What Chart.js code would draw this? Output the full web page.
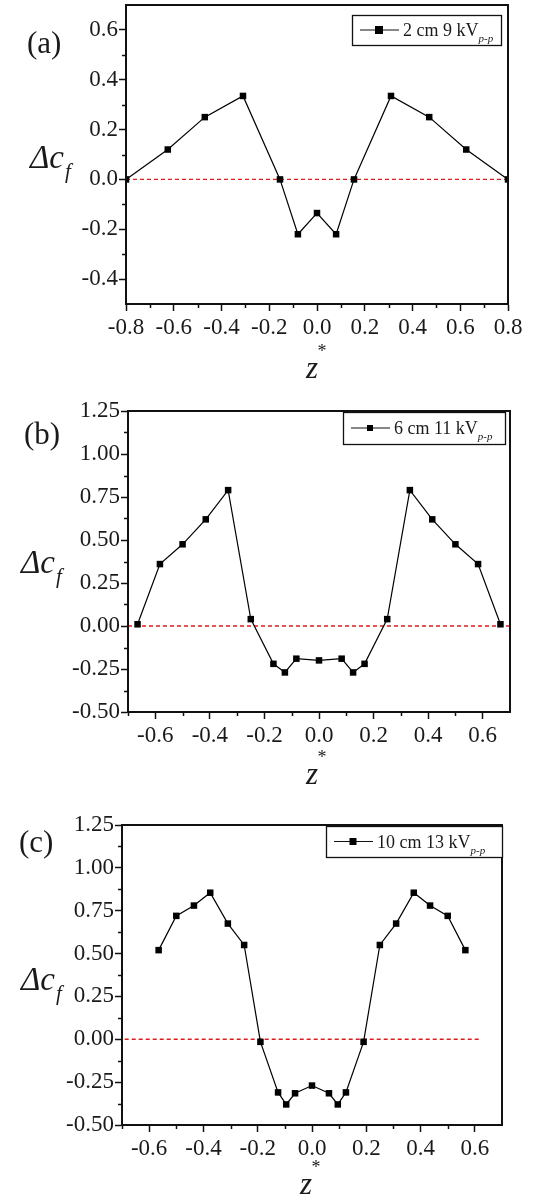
<!DOCTYPE html>
<html>
<head>
<meta charset="utf-8">
<script src="https://cdn.jsdelivr.net/npm/chart.js@4.4.1/dist/chart.umd.min.js"></script>
<style>
  body { margin: 0; background: #fff; width: 554px; height: 1201px; overflow: hidden; }
  .panel { position: absolute; left: 0; width: 554px; }
</style>
</head>
<body>
<div class="panel" style="top:0px;height:395px"><canvas id="chartA"></canvas></div>
<div class="panel" style="top:395px;height:405px"><canvas id="chartB"></canvas></div>
<div class="panel" style="top:800px;height:401px"><canvas id="chartC"></canvas></div>
<script>
// (a) 2 cm 9 kV p-p
const aX = [-0.8, -0.625, -0.47, -0.31, -0.155, -0.08, 0, 0.08, 0.155, 0.31, 0.47, 0.625, 0.8];
const aY = [0, 0.12, 0.25, 0.335, 0, -0.22, -0.135, -0.22, 0, 0.335, 0.25, 0.12, 0];
const aZeroX = [-0.8, 0.8];
const aXTicks = [-0.8, -0.6, -0.4, -0.2, 0, 0.2, 0.4, 0.6, 0.8];
const aYTicks = [-0.4, -0.2, 0, 0.2, 0.4, 0.6];
const aXMinor = [-0.7, -0.5, -0.3, -0.1, 0.1, 0.3, 0.5, 0.7];
const aYMinor = [-0.3, -0.1, 0.1, 0.3, 0.5];

// (b) 6 cm 11 kV p-p
const bX = [-0.665, -0.583, -0.5, -0.415, -0.333, -0.25, -0.167, -0.125, -0.083, 0, 0.083, 0.125, 0.167, 0.25, 0.333, 0.415, 0.5, 0.583, 0.665];
const bY = [0.01, 0.36, 0.475, 0.62, 0.79, 0.04, -0.22, -0.27, -0.19, -0.2, -0.19, -0.27, -0.22, 0.04, 0.79, 0.62, 0.475, 0.36, 0.01];
const bZeroX = [-0.7, 0.7];

// (c) 10 cm 13 kV p-p
const cX = [-0.565, -0.5, -0.435, -0.375, -0.31, -0.25, -0.19, -0.125, -0.095, -0.0625, 0, 0.0625, 0.095, 0.125, 0.19, 0.25, 0.31, 0.375, 0.435, 0.5, 0.565];
const cY = [0.52, 0.72, 0.78, 0.855, 0.675, 0.55, -0.015, -0.31, -0.38, -0.315, -0.27, -0.315, -0.38, -0.31, -0.015, 0.55, 0.675, 0.855, 0.78, 0.72, 0.52];
const cZeroX = [-0.69, 0.62];

// shared tick lists for (b) and (c)
const bcXTicks = [-0.6, -0.4, -0.2, 0, 0.2, 0.4, 0.6];
const bcYTicks = [-0.5, -0.25, 0, 0.25, 0.5, 0.75, 1.0, 1.25];
const bcXMinor = [-0.7, -0.5, -0.3, -0.1, 0.1, 0.3, 0.5];
const bcYMinor = [-0.375, -0.125, 0.125, 0.375, 0.625, 0.875, 1.125];

const SERIF = '"Liberation Serif", "Times New Roman", serif';

// frame, minor ticks, panel letter, axis titles and legend
const decor = {
  id: 'decor',
  afterDraw(chart, args, o) {
    const ctx = chart.ctx;
    const { left, right, top, bottom } = chart.chartArea;
    const xs = chart.scales.x, ys = chart.scales.y;
    ctx.save();
    ctx.strokeStyle = '#111';
    ctx.lineWidth = 2;
    ctx.strokeRect(left, top, right - left, bottom - top);

    ctx.lineWidth = 1.5;
    ctx.beginPath();
    o.xMinor.forEach(v => {
      const px = Math.round(xs.getPixelForValue(v)) + 0.5;
      ctx.moveTo(px, bottom); ctx.lineTo(px, bottom + 4);
    });
    o.yMinor.forEach(v => {
      const py = Math.round(ys.getPixelForValue(v)) + 0.5;
      ctx.moveTo(left, py); ctx.lineTo(left - 4, py);
    });
    ctx.stroke();

    ctx.fillStyle = '#1a1a1a';
    ctx.textBaseline = 'alphabetic';
    ctx.textAlign = 'left';
    // panel letter
    ctx.font = '31px ' + SERIF;
    ctx.fillText(o.panel, o.panelPos[0], o.panelPos[1]);
    // Δc_f
    ctx.font = 'italic 33px ' + SERIF;
    ctx.fillText('\u0394c', o.yTitlePos[0], o.yTitlePos[1]);
    const w = ctx.measureText('\u0394c').width;
    ctx.font = 'italic 21px ' + SERIF;
    ctx.fillText('f', o.yTitlePos[0] + w + 1, o.yTitlePos[1] + 10);
    // z*
    ctx.font = 'italic 31px ' + SERIF;
    ctx.textAlign = 'center';
    ctx.fillText('z', o.xTitlePos[0], o.xTitlePos[1]);
    ctx.font = '18px ' + SERIF;
    ctx.fillText('*', o.xTitlePos[0] + 10, o.xTitlePos[1] - 21);

    // legend
    const [bx, by, bw, bh] = o.legendBox;
    ctx.fillStyle = '#fff';
    ctx.fillRect(bx, by, bw, bh);
    ctx.strokeStyle = '#111';
    ctx.lineWidth = 1.3;
    ctx.strokeRect(bx + 0.5, by + 0.5, bw, bh);
    const my = by + bh / 2;
    ctx.lineWidth = 1.2;
    ctx.beginPath();
    ctx.moveTo(bx + 8, my); ctx.lineTo(bx + 47, my);
    ctx.stroke();
    ctx.fillStyle = '#000';
    const m = o.legendMarker;
    ctx.fillRect(bx + 27 - m / 2, my - m / 2, m, m);
    ctx.fillStyle = '#1a1a1a';
    ctx.textAlign = 'left';
    ctx.font = '18px ' + SERIF;
    ctx.fillText(o.legendText, bx + 51, my + 6);
    const tw = ctx.measureText(o.legendText).width;
    ctx.font = 'italic 11px ' + SERIF;
    ctx.fillText('p-p', bx + 51 + tw, my + 12);
    ctx.restore();
  }
};

function makeChart(id, p) {
  const H = p.height;
  new Chart(document.getElementById(id), {
    type: 'scatter',
    data: {
      datasets: [
        {
          data: p.xs.map((x, i) => ({ x: x, y: p.ys[i] })),
          showLine: true,
          borderColor: '#000',
          borderWidth: 1.2,
          pointStyle: 'rect',
          pointRadius: 4.6,
          pointBackgroundColor: '#000',
          pointBorderColor: '#000',
          pointBorderWidth: 0
        },
        {
          data: p.zeroX.map(x => ({ x: x, y: 0 })),
          showLine: true,
          borderColor: '#e01c1c',
          borderWidth: 1.4,
          borderDash: [4, 3],
          pointRadius: 0
        }
      ]
    },
    options: {
      responsive: true,
      maintainAspectRatio: false,
      animation: false,
      layout: { padding: { top: p.plot.t, right: 554 - p.plot.r, left: 0, bottom: 0 } },
      plugins: {
        legend: { display: false },
        tooltip: { enabled: false },
        decor: {
          xMinor: p.xMinor, yMinor: p.yMinor,
          panel: p.panel, panelPos: p.panelPos,
          yTitlePos: p.yTitlePos, xTitlePos: p.xTitlePos,
          legendBox: p.legendBox, legendText: p.legendText, legendMarker: p.legendMarker
        }
      },
      scales: {
        x: {
          type: 'linear',
          min: p.xMin, max: p.xMax,
          afterBuildTicks: s => { s.ticks = p.xTicks.map(v => ({ value: v })); },
          afterFit: s => { s.height = H - p.plot.b; s.paddingLeft = 0; s.paddingRight = 0; },
          grid: { drawOnChartArea: false, tickLength: 7, tickColor: '#111', tickWidth: 1.5 },
          border: { color: '#111', width: 2 },
          ticks: {
            color: '#1a1a1a', padding: 3, maxRotation: 0, autoSkip: false,
            font: { family: SERIF, size: 23 },
            callback: v => v.toFixed(1)
          }
        },
        y: {
          type: 'linear',
          min: p.yMin, max: p.yMax,
          afterBuildTicks: s => { s.ticks = p.yTicks.map(v => ({ value: v })); },
          afterFit: s => { s.width = p.plot.l; s.paddingTop = 0; s.paddingBottom = 0; },
          grid: { drawOnChartArea: false, tickLength: 7, tickColor: '#111', tickWidth: 1.5 },
          border: { color: '#111', width: 2 },
          ticks: {
            color: '#1a1a1a', padding: 1, autoSkip: false,
            font: { family: SERIF, size: 23 },
            callback: v => v.toFixed(p.yDigits)
          }
        }
      }
    },
    plugins: [decor]
  });
}

makeChart('chartA', {
  height: 395, plot: { l: 126, r: 508, t: 5, b: 304 },
  xs: aX, ys: aY, zeroX: aZeroX,
  xMin: -0.8, xMax: 0.8, yMin: -0.5, yMax: 0.7, yDigits: 1,
  xTicks: aXTicks, yTicks: aYTicks, xMinor: aXMinor, yMinor: aYMinor,
  panel: '(a)', panelPos: [27, 53], yTitlePos: [30, 168], xTitlePos: [312, 378],
  legendBox: [352, 15, 149, 30], legendText: '2 cm 9 kV', legendMarker: 8
});

makeChart('chartB', {
  height: 405, plot: { l: 128, r: 510, t: 16, b: 317 },
  xs: bX, ys: bY, zeroX: bZeroX,
  xMin: -0.7, xMax: 0.7, yMin: -0.5, yMax: 1.25, yDigits: 2,
  xTicks: bcXTicks, yTicks: bcYTicks, xMinor: bcXMinor, yMinor: bcYMinor,
  panel: '(b)', panelPos: [24, 49], yTitlePos: [21, 178], xTitlePos: [312, 389],
  legendBox: [343, 17, 162, 32], legendText: '6 cm 11 kV', legendMarker: 6
});

makeChart('chartC', {
  height: 401, plot: { l: 122, r: 502, t: 25, b: 325 },
  xs: cX, ys: cY, zeroX: cZeroX,
  xMin: -0.7, xMax: 0.7, yMin: -0.5, yMax: 1.25, yDigits: 2,
  xTicks: bcXTicks, yTicks: bcYTicks, xMinor: bcXMinor, yMinor: bcYMinor,
  panel: '(c)', panelPos: [19, 52], yTitlePos: [21, 190], xTitlePos: [306, 394],
  legendBox: [326, 26, 176, 31], legendText: '10 cm 13 kV', legendMarker: 7
});
</script>
</body>
</html>
